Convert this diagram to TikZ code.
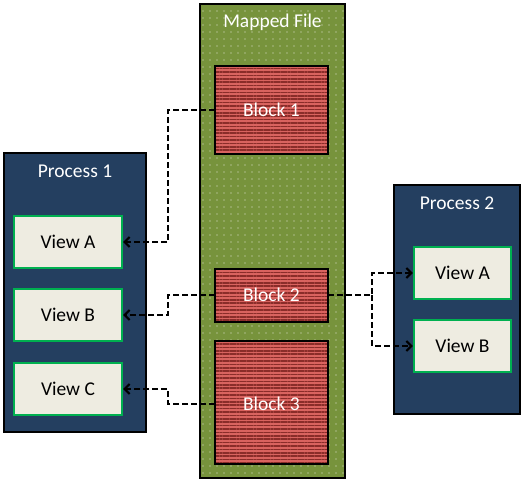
\documentclass[tikz,border=0pt]{standalone}
\usepackage{fontspec}
\setmainfont{Carlito}
\usetikzlibrary{patterns.meta,arrows.meta}
\definecolor{olive}{HTML}{77933C}
\definecolor{blockred}{HTML}{D9635F}
\definecolor{stripe}{HTML}{8A2C29}
\definecolor{navy}{HTML}{243F60}
\definecolor{viewfill}{HTML}{EEECE1}
\definecolor{viewgreen}{HTML}{00B050}
\tikzset{
  filebox/.style={draw=black,line width=1.8pt,preaction={fill=olive},pattern={Dots[distance=7pt,radius=0.6pt]},pattern color=white!80!olive},
  blockbox/.style={draw=black,line width=2pt,preaction={fill=blockred},pattern={Lines[distance=3.4pt,line width=1.6pt]},pattern color=stripe},
  procbox/.style={draw=black,line width=1.8pt,fill=navy},
  viewbox/.style={draw=viewgreen,line width=2.4pt,fill=viewfill,font=\fontsize{19.5}{21}\selectfont,text=black},
  title/.style={text=white,font=\fontsize{19.5}{21}\selectfont},
  blabel/.style={text=white,font=\fontsize{19.5}{21}\selectfont},
  conn/.style={draw=black,line width=2pt,dash pattern=on 6pt off 3pt,-{Straight Barb[length=5pt,width=10pt,line width=2pt]}}
}
\begin{document}
\begin{tikzpicture}[x=1pt,y=-1pt]
\useasboundingbox (0,0) rectangle (523,480);
% Mapped file
\path[filebox] (200,4) rectangle (345,478);
\node[title] (mf) at (272.5,22) {Mapped File};
% blocks
\path[blockbox] (215,66) rectangle (328,154);
\node[blabel] (b1) at (271.5,110) {Block 1};
\path[blockbox] (215,269) rectangle (328,322);
\node[blabel] (b2) at (271.5,295) {Block 2};
\path[blockbox] (215,341) rectangle (328,464);
\node[blabel] (b3) at (271.5,404) {Block 3};
\coordinate (b1w) at (215,110);
\coordinate (b2w) at (215,295);
\coordinate (b2e) at (328,295);
\coordinate (b3w) at (215,404);
% Process 1
\path[procbox] (4,153) rectangle (146,432);
\node[title] (p1) at (75,171) {Process 1};
\node[viewbox,minimum width=108pt,minimum height=52pt,inner sep=0pt] (v1a) at (68,242) {View A};
\node[viewbox,minimum width=108pt,minimum height=52pt,inner sep=0pt] (v1b) at (68,315) {View B};
\node[viewbox,minimum width=108pt,minimum height=52pt,inner sep=0pt] (v1c) at (68,389) {View C};
% Process 2
\path[procbox] (394,185) rectangle (520,414);
\node[title] (p2) at (457,203) {Process 2};
\node[viewbox,minimum width=97pt,minimum height=52pt,inner sep=0pt] (v2a) at (462.5,273) {View A};
\node[viewbox,minimum width=97pt,minimum height=52pt,inner sep=0pt] (v2b) at (462.5,346) {View B};
% connectors
\draw[conn] (b1w) -- (168,110) |- (v1a.east);
\draw[conn] (b2w) -- (168,295) |- (v1b.east);
\draw[conn] (b3w) -- (168,404) |- (v1c.east);
\draw[conn] (b2e) -- (372,295) |- (v2a.west);
\draw[conn] (372,295) |- (v2b.west);
\end{tikzpicture}
\end{document}
